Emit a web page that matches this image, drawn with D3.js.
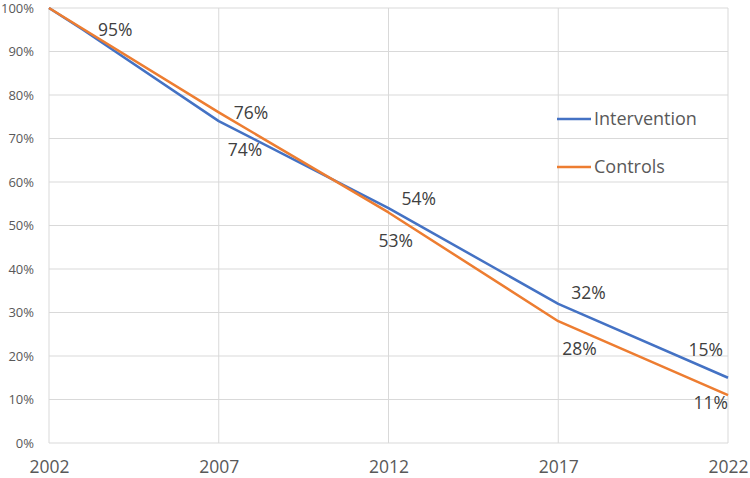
<!DOCTYPE html>
<html>
<head>
<meta charset="utf-8">
<script src="https://cdn.jsdelivr.net/npm/d3@7"></script>
<style>
  body { margin: 0; background: #fff; }
  text { font-family: "Open Sans", "Noto Sans", sans-serif; }
</style>
</head>
<body>
<div id="container"></div>
<script>
const WIDTH = 750,
      HEIGHT = 478;

const margin = { top: 8, right: 22, bottom: 35, left: 49 };

const width = WIDTH - margin.left - margin.right,
      height = HEIGHT - margin.top - margin.bottom;

// data
const xTicks = [2002, 2007, 2012, 2017, 2022];
const yTicks = [0, 10, 20, 30, 40, 50, 60, 70, 80, 90, 100];
const interventionYears = [2002, 2003, 2007, 2012, 2017, 2022];
const interventionValues = [100, 95, 74, 54, 32, 15];
const controlsYears = [2002, 2007, 2012, 2017, 2022];
const controlsValues = [100, 76, 53, 28, 11];

// which points get a label, and where the label sits relative to it
const labelPlacement = {
    Intervention: { 2003: [15, 0, "start"], 2007: [9, 29, "start"], 2012: [13, -9, "start"],
                    2017: [13, -11, "start"], 2022: [-5, -28, "end"] },
    Controls: { 2007: [15, 0, "start"], 2012: [-10, 28, "start"],
                2017: [4, 28, "start"], 2022: [0, 8, "end"] }
};

const series = [
    { name: "Intervention", color: "#4472C4",
      points: interventionYears.map((y, i) => ({ year: y, value: interventionValues[i] })) },
    { name: "Controls", color: "#ED7D31",
      points: controlsYears.map((y, i) => ({ year: y, value: controlsValues[i] })) }
];

const svg = d3.select("#container").append("svg")
    .attr("width", WIDTH).attr("height", HEIGHT);

const container = svg.append("g")
    .attr("transform", `translate(${margin.left}, ${margin.top})`);

const xScale = d3.scaleLinear().domain([2002, 2022]).range([0, width]);
const yScale = d3.scaleLinear().domain([0, 100]).range([height, 0]);

// grid
container.append("g")
    .selectAll("line")
    .data(yTicks)
    .join("line")
    .attr("x1", 0).attr("x2", width)
    .attr("y1", d => yScale(d)).attr("y2", d => yScale(d))
    .attr("stroke", "#d9d9d9").attr("stroke-width", 1);

container.append("g")
    .selectAll("line")
    .data(xTicks)
    .join("line")
    .attr("x1", d => xScale(d)).attr("x2", d => xScale(d))
    .attr("y1", 0).attr("y2", height)
    .attr("stroke", "#d9d9d9").attr("stroke-width", 1);

// y axis
const yAxis = d3.axisLeft(yScale).tickValues(yTicks).tickSize(0).tickPadding(15)
    .tickFormat(d => d + "%");
container.append("g").call(yAxis)
    .call(g => g.select(".domain").remove())
    .selectAll("text")
    .attr("fill", "#595959")
    .style("font-size", "13px");

// x axis
const xAxis = d3.axisBottom(xScale).tickValues(xTicks).tickSize(0).tickPadding(18)
    .tickFormat(d3.format("d"));
container.append("g")
    .attr("transform", `translate(0, ${height})`)
    .call(xAxis)
    .call(g => g.select(".domain").remove())
    .selectAll("text")
    .attr("fill", "#595959")
    .style("font-size", "17.5px");

// lines
const line = d3.line().x(d => xScale(d.year)).y(d => yScale(d.value));

container.selectAll(".series")
    .data(series)
    .join("path")
    .attr("class", "series")
    .attr("fill", "none")
    .attr("stroke", d => d.color)
    .attr("stroke-width", 2.5)
    .attr("stroke-linejoin", "round")
    .attr("d", d => line(d.points));

// data labels
series.forEach(s => {
    const place = labelPlacement[s.name];
    container.append("g")
        .selectAll("text")
        .data(s.points.filter(p => place[p.year]))
        .join("text")
        .attr("x", p => xScale(p.year) + place[p.year][0])
        .attr("y", p => yScale(p.value) + place[p.year][1])
        .attr("dy", "0.35em")
        .attr("text-anchor", p => place[p.year][2])
        .attr("fill", "#404040")
        .style("font-size", "17.5px")
        .text(p => p.value + "%");
});

// legend
const legend = svg.append("g").attr("transform", "translate(557, 119)");
series.forEach((s, i) => {
    const row = legend.append("g").attr("transform", `translate(0, ${i * 48})`);
    row.append("line")
        .attr("x1", 0).attr("x2", 34)
        .attr("stroke", s.color).attr("stroke-width", 2.5);
    row.append("text")
        .attr("x", 37).attr("dy", "0.35em")
        .attr("fill", "#595959")
        .style("font-size", "18px")
        .text(s.name);
});
</script>
</body>
</html>
